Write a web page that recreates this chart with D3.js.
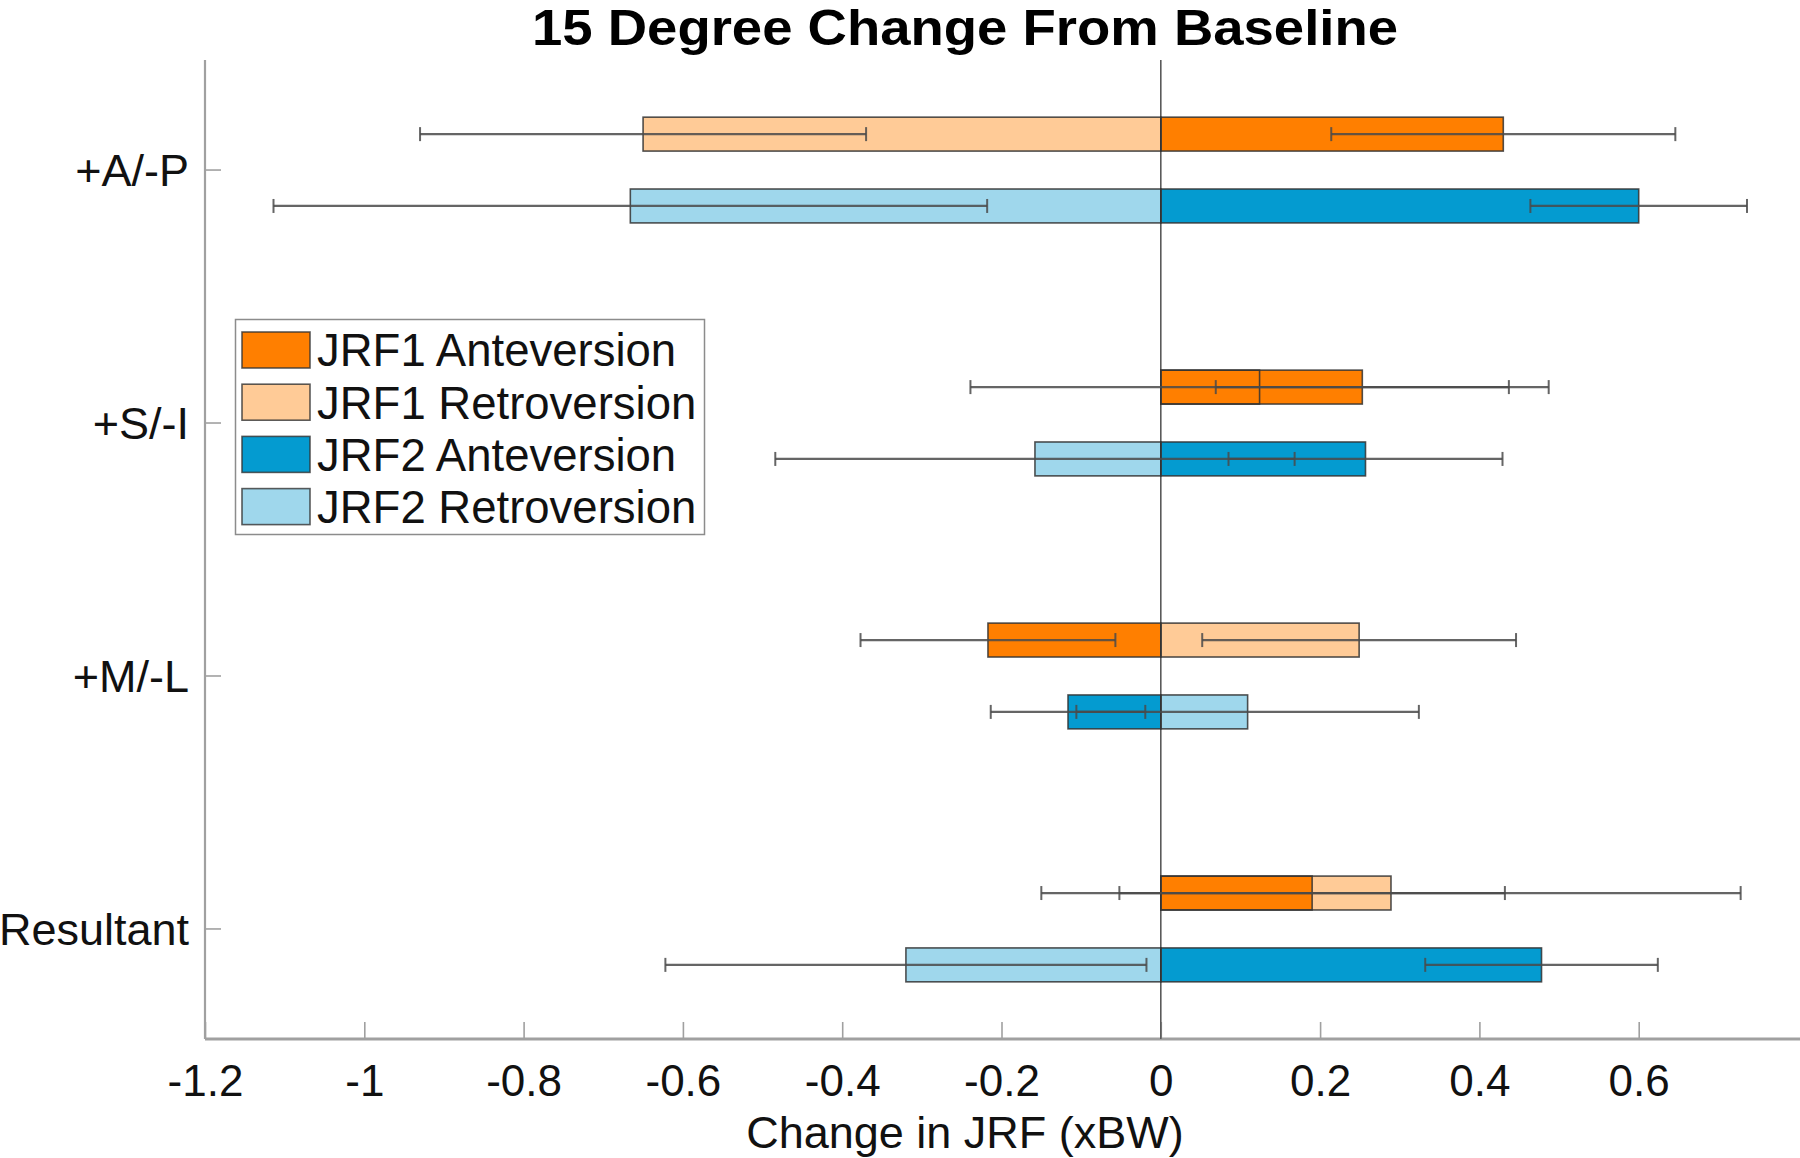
<!DOCTYPE html>
<html>
<head>
<meta charset="utf-8">
<script src="https://cdn.jsdelivr.net/npm/d3@7"></script>
<style>
  html, body { margin: 0; padding: 0; background: #fff; }
  svg { display: block; font-family: "Liberation Sans", Arial, Helvetica, sans-serif; }
</style>
</head>
<body>
<svg id="chart" width="1800" height="1158"></svg>
<script>
// ---------- data ----------
const categories = ["+A/-P", "+S/-I", "+M/-L", "Resultant"];
const xTicks = [-1.2, -1, -0.8, -0.6, -0.4, -0.2, 0, 0.2, 0.4, 0.6];

const jrf1AnteMean  = [0.430, 0.253, -0.217, 0.190];
const jrf1AnteSD    = [0.216, 0.184, 0.160, 0.242];
const jrf1RetroMean = [-0.650, 0.124, 0.249, 0.289];
const jrf1RetroSD   = [0.280, 0.363, 0.197, 0.439];
const jrf2AnteMean  = [0.600, 0.257, -0.1165, 0.478];
const jrf2AnteSD    = [0.136, 0.172, 0.097, 0.146];
const jrf2RetroMean = [-0.666, -0.158, 0.109, -0.320];
const jrf2RetroSD   = [0.448, 0.326, 0.215, 0.302];

const seriesNames = ["JRF1 Anteversion", "JRF1 Retroversion", "JRF2 Anteversion", "JRF2 Retroversion"];
const seriesColors = ["#ff7f00", "#ffcb97", "#049bd0", "#9fd7ec"];

(function () {
// ---------- layout ----------
const svg = d3.select("#chart");
const mLeft = 205, mRight = 1798, mTop = 60, mBottom = 1039;

const x = d3.scaleLinear().domain([-1.2, 0.8]).range([mLeft, mRight]);
const y = d3.scaleLinear().domain([0.565, 4.435]).range([mTop, mBottom]);

const offset = 0.142, barH = 0.134;

// series table (drawing order: retro first so anteversion faces lie on top)
const series = [
  {name: seriesNames[1], color: seriesColors[1], mean: jrf1RetroMean, sd: jrf1RetroSD, row: -1},
  {name: seriesNames[0], color: seriesColors[0], mean: jrf1AnteMean,  sd: jrf1AnteSD,  row: -1},
  {name: seriesNames[3], color: seriesColors[3], mean: jrf2RetroMean, sd: jrf2RetroSD, row: 1},
  {name: seriesNames[2], color: seriesColors[2], mean: jrf2AnteMean,  sd: jrf2AnteSD,  row: 1}
];

const barData = [];
series.forEach(s => {
  categories.forEach((c, i) => {
    barData.push({cat: c, pos: i + 1 + s.row * offset, v: s.mean[i], sd: s.sd[i], color: s.color});
  });
});

// ---------- axes ----------
svg.append("line")
  .attr("x1", mLeft).attr("x2", mLeft).attr("y1", mTop).attr("y2", mBottom)
  .attr("stroke", "#a0a0a0").attr("stroke-width", 2.2);

const yAxisG = svg.append("g");
categories.forEach((c, i) => {
  yAxisG.append("line")
    .attr("x1", mLeft).attr("x2", mLeft + 16)
    .attr("y1", y(i + 1)).attr("y2", y(i + 1))
    .attr("stroke", "#a0a0a0").attr("stroke-width", 1.6);
  yAxisG.append("text")
    .attr("x", 189).attr("y", y(i + 1)).attr("dy", "0.36em")
    .attr("text-anchor", "end")
    .attr("font-size", 45).attr("fill", "#111")
    .text(c);
});

const xAxis = d3.axisBottom(x).tickValues(xTicks)
  .tickSizeInner(-17).tickSizeOuter(0).tickPadding(38);
const gx = svg.append("g").attr("transform", `translate(0,${mBottom})`).call(xAxis);
gx.select(".domain").attr("stroke", "#a0a0a0").attr("stroke-width", 2.8)
  .attr("d", `M${mLeft},0H1800`);
gx.selectAll(".tick line").attr("stroke", "#a0a0a0").attr("stroke-width", 1.6);
gx.selectAll(".tick text")
  .attr("font-size", 44).attr("fill", "#111")
  .attr("font-family", "'Liberation Sans', Arial, sans-serif")
  .attr("dy", null).attr("y", 57)
  .text(d => (d < 0 ? "-" : "") + d3.format("")(Math.abs(+d.toFixed(1))));

// ---------- bars: faces ----------
const plot = svg.append("g");
plot.selectAll("rect.face").data(barData).join("rect")
  .attr("class", "face")
  .attr("x", d => Math.min(x(0), x(d.v)))
  .attr("width", d => Math.abs(x(d.v) - x(0)))
  .attr("y", d => y(d.pos - barH / 2))
  .attr("height", d => y(d.pos + barH / 2) - y(d.pos - barH / 2))
  .attr("fill", d => d.color);

plot.append("line")
  .attr("x1", x(0)).attr("x2", x(0)).attr("y1", mTop).attr("y2", mBottom)
  .attr("stroke", "#5a5a5a").attr("stroke-width", 1.6);

plot.selectAll("rect.edge").data(barData).join("rect")
  .attr("class", "edge")
  .attr("x", d => Math.min(x(0), x(d.v)))
  .attr("width", d => Math.abs(x(d.v) - x(0)))
  .attr("y", d => y(d.pos - barH / 2))
  .attr("height", d => y(d.pos + barH / 2) - y(d.pos - barH / 2))
  .attr("fill", "none")
  .attr("stroke", "#333").attr("stroke-opacity", 0.85).attr("stroke-width", 1.6);

// ---------- error bars ----------
const eb = plot.selectAll("g.err").data(barData).join("g").attr("class", "err")
  .attr("stroke", "#4a4a4a").attr("stroke-opacity", 0.85);
eb.append("line")
  .attr("x1", d => x(d.v - d.sd)).attr("x2", d => x(d.v + d.sd))
  .attr("y1", d => y(d.pos)).attr("y2", d => y(d.pos))
  .attr("stroke-width", 2.2);
eb.append("line")
  .attr("x1", d => x(d.v - d.sd)).attr("x2", d => x(d.v - d.sd))
  .attr("y1", d => y(d.pos) - 7).attr("y2", d => y(d.pos) + 7)
  .attr("stroke-width", 2);
eb.append("line")
  .attr("x1", d => x(d.v + d.sd)).attr("x2", d => x(d.v + d.sd))
  .attr("y1", d => y(d.pos) - 7).attr("y2", d => y(d.pos) + 7)
  .attr("stroke-width", 2);

// ---------- title & axis label ----------
svg.append("text")
  .attr("x", 965).attr("y", 45)
  .attr("text-anchor", "middle")
  .attr("font-size", 50).attr("font-weight", "bold").attr("fill", "#000")
  .attr("textLength", 866).attr("lengthAdjust", "spacingAndGlyphs")
  .text("15 Degree Change From Baseline");

svg.append("text")
  .attr("x", 965).attr("y", 1148)
  .attr("text-anchor", "middle")
  .attr("font-size", 45).attr("fill", "#111")
  .text("Change in JRF (xBW)");

// ---------- legend ----------
const lg = svg.append("g");
lg.append("rect")
  .attr("x", 235.5).attr("y", 319.5).attr("width", 469).attr("height", 215)
  .attr("fill", "#fff").attr("stroke", "#8c8c8c").attr("stroke-width", 1.5);
[0, 1, 2, 3].forEach((k, j) => {
  const cy = 350 + j * 52.2;
  lg.append("rect")
    .attr("x", 242).attr("y", cy - 18).attr("width", 68).attr("height", 36)
    .attr("fill", seriesColors[k]).attr("stroke", "#333").attr("stroke-opacity", 0.8).attr("stroke-width", 1.6);
  lg.append("text")
    .attr("x", 317).attr("y", cy).attr("dy", "0.36em")
    .attr("font-size", 45.5).attr("fill", "#111")
    .text(seriesNames[k]);
});
})();
</script>
</body>
</html>
